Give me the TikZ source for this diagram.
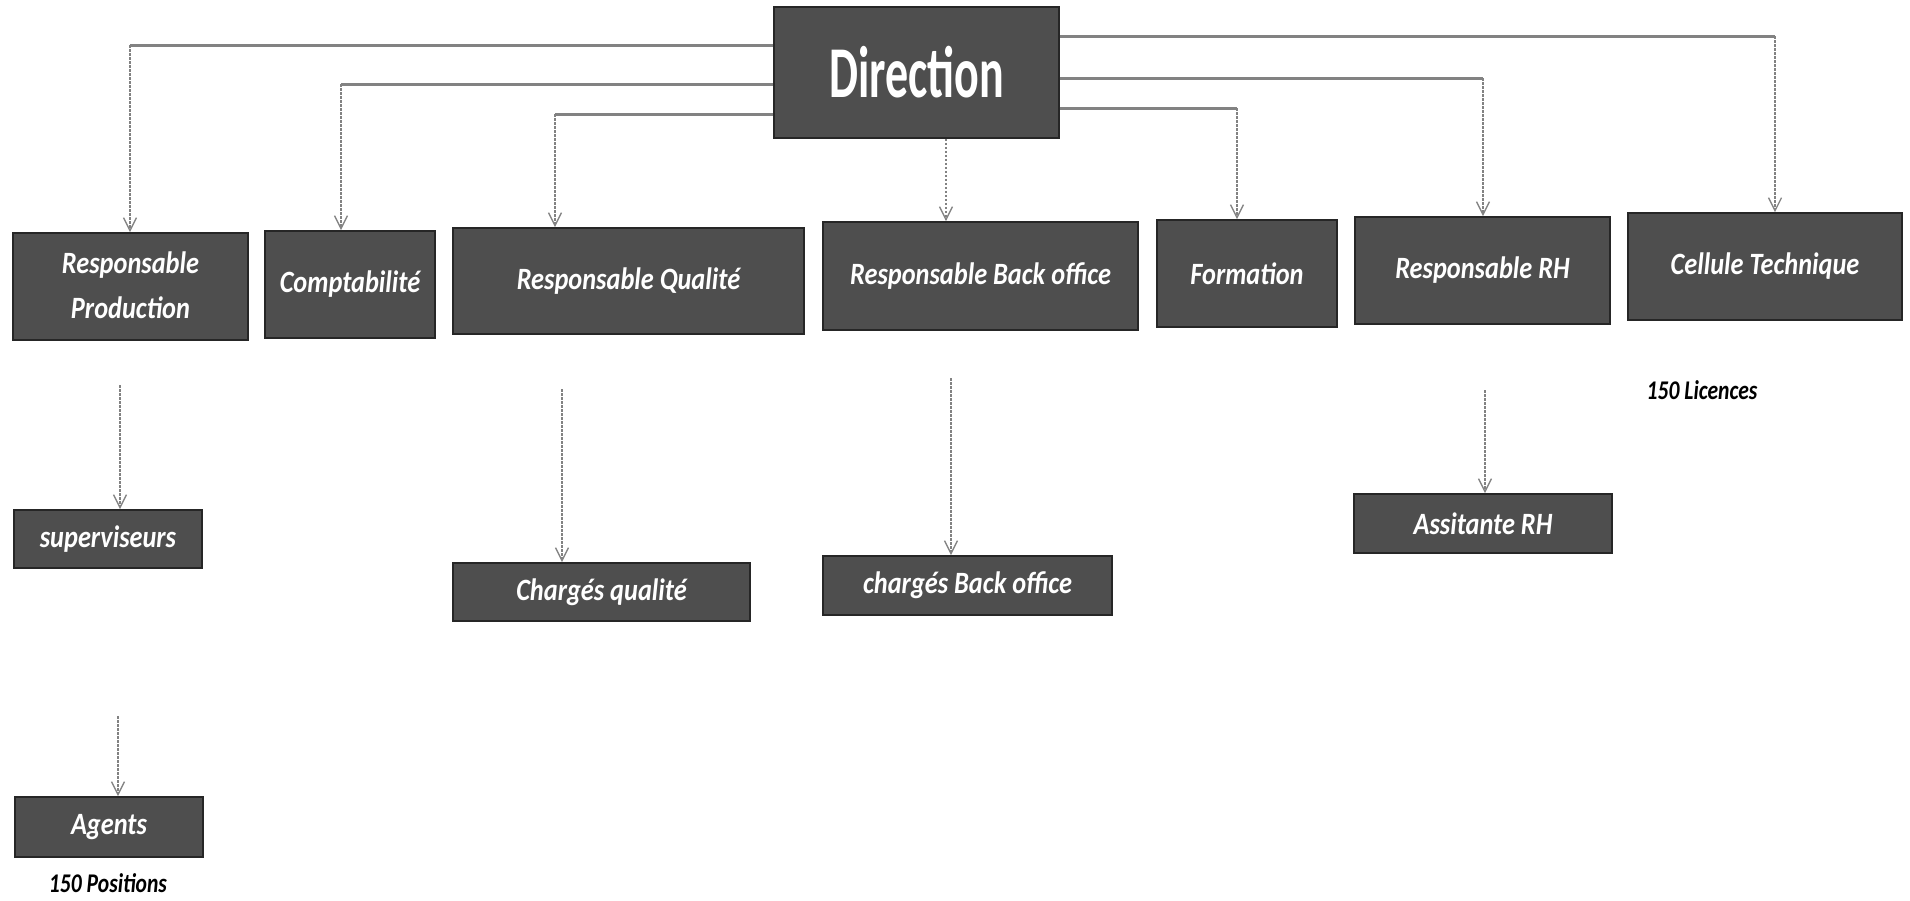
\documentclass[tikz,border=0pt]{standalone}
\usepackage{fontspec}
\setmainfont{Carlito}
\usepackage{graphicx}
\usetikzlibrary{arrows.meta}
\definecolor{boxgray}{RGB}{78,78,78}
\definecolor{linegray}{RGB}{130,130,130}
\newcommand{\bt}[1]{\scalebox{0.85}[1]{\fontsize{31}{45}\selectfont\bfseries\itshape #1}}
\newcommand{\nt}[1]{\scalebox{0.8}[1]{\fontsize{27}{32}\selectfont\bfseries\itshape #1}}
\tikzset{
  org/.style={draw=black!85, line width=1.8pt, fill=boxgray, text=white, inner sep=0pt},
  hl/.style={draw=linegray, line width=3pt},
  vl/.style={draw=linegray, line width=1.3pt, dash pattern=on 2.5pt off 1.5pt,
    -{Straight Barb[length=13pt,width=13pt,line width=1.3pt]}},
  note/.style={text=black, inner sep=0pt}
}
\begin{document}
\begin{tikzpicture}[x=1pt,y=-1pt]
\useasboundingbox (0,0) rectangle (1910,900);
\fill[white] (0,0) rectangle (1910,900);

% top
\node[org, minimum width=285, minimum height=131] (dir) at (916.5,72.5)
  {\scalebox{0.63}[1]{\fontsize{73}{80}\selectfont\bfseries Direction}};

% first row
\node[org, minimum width=235, minimum height=107] (rp) at (130.5,286.5)
  {\bt{\begin{tabular}{@{}c@{}}Responsable\\Production\end{tabular}}};
\node[org, minimum width=170, minimum height=107] (cpt) at (350,284.5) {\bt{Comptabilité}};
\node[org, minimum width=351, minimum height=106] (rq) at (628.5,281) {\bt{Responsable Qualité}};
\node[org, minimum width=315, minimum height=108] (rbo) at (980.5,276) {\bt{Responsable Back office}};
\node[org, minimum width=180, minimum height=107] (form) at (1247,273.5) {\bt{Formation}};
\node[org, minimum width=255, minimum height=107] (rrh) at (1482.5,270.5) {\bt{Responsable RH}};
\node[org, minimum width=274, minimum height=107] (ct) at (1765,266.5) {\bt{Cellule Technique}};

% lower rows
\node[org, minimum width=188, minimum height=58] (sup) at (108,539) {\bt{superviseurs}};
\node[org, minimum width=188, minimum height=60] (ag) at (109,827) {\bt{Agents}};
\node[org, minimum width=297, minimum height=58] (cq) at (601.5,592) {\bt{Chargés qualité}};
\node[org, minimum width=289, minimum height=59] (cbo) at (967.5,585.5) {\bt{chargés Back office}};
\node[org, minimum width=258, minimum height=59] (arh) at (1483,523.5) {\bt{Assitante RH}};

% notes
\node[note] (pos) at (108,883) {\nt{150 Positions}};
\node[note] (lic) at (1702,390) {\nt{150 Licences}};

% corner coordinates
\coordinate (k1) at (130,45);
\coordinate (k2) at (341,84);
\coordinate (k3) at (555,114);
\coordinate (k4) at (946,0);
\coordinate (k5) at (1237,108);
\coordinate (k6) at (1483,78);
\coordinate (k7) at (1775,36);

% Direction connectors
\draw[hl] (dir.west |- k1) -- (k1);
\draw[vl] (k1) -- (k1 |- rp.north);
\draw[hl] (dir.west |- k2) -- (k2);
\draw[vl] (k2) -- (k2 |- cpt.north);
\draw[hl] (dir.west |- k3) -- (k3);
\draw[vl] (k3) -- (k3 |- rq.north);
\draw[vl] (k4 |- dir.south) -- (k4 |- rbo.north);
\draw[hl] (dir.east |- k5) -- (k5);
\draw[vl] (k5) -- (k5 |- form.north);
\draw[hl] (dir.east |- k6) -- (k6);
\draw[vl] (k6) -- (k6 |- rrh.north);
\draw[hl] (dir.east |- k7) -- (k7);
\draw[vl] (k7) -- (k7 |- ct.north);

% lower connectors
\coordinate (s1) at (120,385);
\coordinate (s2) at (118,716);
\coordinate (s3) at (562,389);
\coordinate (s4) at (951,378);
\coordinate (s5) at (1485,390);
\draw[vl] (s1) -- (s1 |- sup.north);
\draw[vl] (s2) -- (s2 |- ag.north);
\draw[vl] (s3) -- (s3 |- cq.north);
\draw[vl] (s4) -- (s4 |- cbo.north);
\draw[vl] (s5) -- (s5 |- arh.north);
\end{tikzpicture}
\end{document}
